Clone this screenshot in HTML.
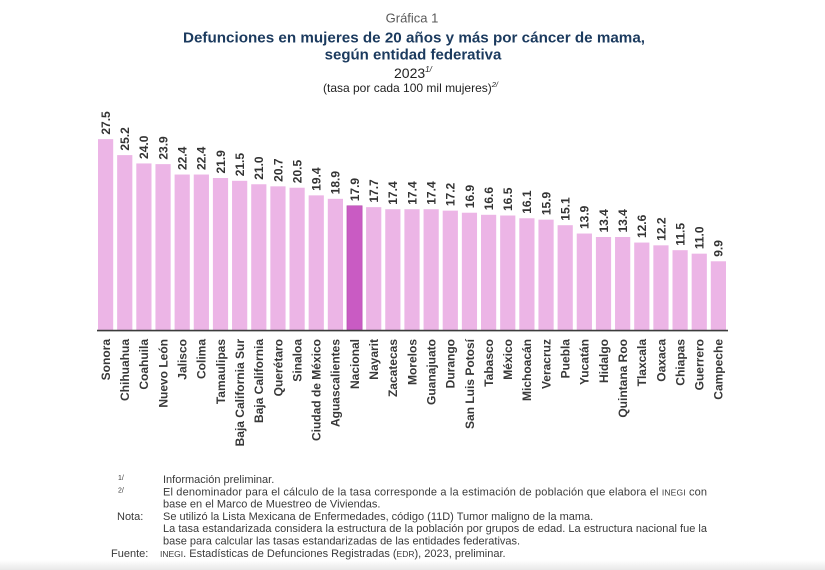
<!DOCTYPE html>
<html><head><meta charset="utf-8"><style>
html,body{margin:0;padding:0;background:#fff;}
svg{display:block;font-family:"Liberation Sans",Arial,sans-serif;}
.v{font-size:12px;font-weight:bold;fill:#333;}
.c{font-size:12px;font-weight:bold;fill:#383838;text-anchor:end;}
.f{font-size:11px;fill:#3a3a3a;}
.sc{font-size:8.5px;}
</style></head><body>
<svg width="825" height="570" viewBox="0 0 825 570" xmlns="http://www.w3.org/2000/svg">
<defs><linearGradient id="bg" x1="0" y1="0" x2="0" y2="1"><stop offset="0" stop-color="#fff"/><stop offset="1" stop-color="#e8e8e8"/></linearGradient></defs>
<rect width="825" height="570" fill="#fff"/>
<rect x="0" y="560" width="825" height="10" fill="url(#bg)"/>

<text x="412" y="22.5" text-anchor="middle" font-size="13" fill="#595959">Gráfica 1</text>
<text x="414" y="42.5" text-anchor="middle" font-size="15" font-weight="bold" fill="#1b3a5e" textLength="462" lengthAdjust="spacingAndGlyphs">Defunciones en mujeres de 20 años y más por cáncer de mama,</text>
<text x="413" y="59.5" text-anchor="middle" font-size="15" font-weight="bold" fill="#1b3a5e">según entidad federativa</text>
<text x="394" y="78" font-size="14" fill="#222">2023<tspan font-size="8" dy="-6" font-style="italic">1/</tspan></text>
<text x="323" y="92" font-size="12" fill="#222">(tasa por cada 100 mil mujeres)<tspan font-size="7.5" dy="-5" font-style="italic">2/</tspan></text>

<g fill="#ecb5e6">
<rect x="98.00" y="139.15" width="15.2" height="190.85"/>
<rect x="117.15" y="155.11" width="15.2" height="174.89"/>
<rect x="136.30" y="163.44" width="15.2" height="166.56"/>
<rect x="155.45" y="164.13" width="15.2" height="165.87"/>
<rect x="174.60" y="174.54" width="15.2" height="155.46"/>
<rect x="193.75" y="174.54" width="15.2" height="155.46"/>
<rect x="212.90" y="178.01" width="15.2" height="151.99"/>
<rect x="232.05" y="180.79" width="15.2" height="149.21"/>
<rect x="251.20" y="184.26" width="15.2" height="145.74"/>
<rect x="270.35" y="186.34" width="15.2" height="143.66"/>
<rect x="289.50" y="187.73" width="15.2" height="142.27"/>
<rect x="308.65" y="195.36" width="15.2" height="134.64"/>
<rect x="327.80" y="198.83" width="15.2" height="131.17"/>
<rect x="366.10" y="207.16" width="15.2" height="122.84"/>
<rect x="385.25" y="209.24" width="15.2" height="120.76"/>
<rect x="404.40" y="209.24" width="15.2" height="120.76"/>
<rect x="423.55" y="209.24" width="15.2" height="120.76"/>
<rect x="442.70" y="210.63" width="15.2" height="119.37"/>
<rect x="461.85" y="212.71" width="15.2" height="117.29"/>
<rect x="481.00" y="214.80" width="15.2" height="115.20"/>
<rect x="500.15" y="215.49" width="15.2" height="114.51"/>
<rect x="519.30" y="218.27" width="15.2" height="111.73"/>
<rect x="538.45" y="219.65" width="15.2" height="110.35"/>
<rect x="557.60" y="225.21" width="15.2" height="104.79"/>
<rect x="576.75" y="233.53" width="15.2" height="96.47"/>
<rect x="595.90" y="237.00" width="15.2" height="93.00"/>
<rect x="615.05" y="237.00" width="15.2" height="93.00"/>
<rect x="634.20" y="242.56" width="15.2" height="87.44"/>
<rect x="653.35" y="245.33" width="15.2" height="84.67"/>
<rect x="672.50" y="250.19" width="15.2" height="79.81"/>
<rect x="691.65" y="253.66" width="15.2" height="76.34"/>
<rect x="710.80" y="261.29" width="15.2" height="68.71"/>
</g>
<rect x="346.95" y="205.77" width="15.2" height="124.23" fill="#c95bc3" stroke="#b24aac" stroke-width="0.6"/>
<line x1="97" y1="330.6" x2="728" y2="330.6" stroke="#3c3c3c" stroke-width="1.6"/>

<g class="v">
<text transform="translate(109.9,134.65) rotate(-90)">27.5</text>
<text transform="translate(129.05,150.61) rotate(-90)">25.2</text>
<text transform="translate(148.2,158.94) rotate(-90)">24.0</text>
<text transform="translate(167.35,159.63) rotate(-90)">23.9</text>
<text transform="translate(186.5,170.04) rotate(-90)">22.4</text>
<text transform="translate(205.65,170.04) rotate(-90)">22.4</text>
<text transform="translate(224.8,173.51) rotate(-90)">21.9</text>
<text transform="translate(243.95,176.29) rotate(-90)">21.5</text>
<text transform="translate(263.1,179.76) rotate(-90)">21.0</text>
<text transform="translate(282.25,181.84) rotate(-90)">20.7</text>
<text transform="translate(301.4,183.23) rotate(-90)">20.5</text>
<text transform="translate(320.55,190.86) rotate(-90)">19.4</text>
<text transform="translate(339.7,194.33) rotate(-90)">18.9</text>
<text transform="translate(358.85,201.27) rotate(-90)">17.9</text>
<text transform="translate(378.0,202.66) rotate(-90)">17.7</text>
<text transform="translate(397.15,204.74) rotate(-90)">17.4</text>
<text transform="translate(416.3,204.74) rotate(-90)">17.4</text>
<text transform="translate(435.45,204.74) rotate(-90)">17.4</text>
<text transform="translate(454.6,206.13) rotate(-90)">17.2</text>
<text transform="translate(473.75,208.21) rotate(-90)">16.9</text>
<text transform="translate(492.9,210.3) rotate(-90)">16.6</text>
<text transform="translate(512.05,210.99) rotate(-90)">16.5</text>
<text transform="translate(531.2,213.77) rotate(-90)">16.1</text>
<text transform="translate(550.35,215.15) rotate(-90)">15.9</text>
<text transform="translate(569.5,220.71) rotate(-90)">15.1</text>
<text transform="translate(588.65,229.03) rotate(-90)">13.9</text>
<text transform="translate(607.8,232.5) rotate(-90)">13.4</text>
<text transform="translate(626.95,232.5) rotate(-90)">13.4</text>
<text transform="translate(646.1,238.06) rotate(-90)">12.6</text>
<text transform="translate(665.25,240.83) rotate(-90)">12.2</text>
<text transform="translate(684.4,245.69) rotate(-90)">11.5</text>
<text transform="translate(703.55,249.16) rotate(-90)">11.0</text>
<text transform="translate(722.7,256.79) rotate(-90)">9.9</text>
</g>

<g class="c">
<text transform="translate(109.9,339) rotate(-90)">Sonora</text>
<text transform="translate(129.05,339) rotate(-90)">Chihuahua</text>
<text transform="translate(148.2,339) rotate(-90)">Coahuila</text>
<text transform="translate(167.35,339) rotate(-90)">Nuevo León</text>
<text transform="translate(186.5,339) rotate(-90)">Jalisco</text>
<text transform="translate(205.65,339) rotate(-90)">Colima</text>
<text transform="translate(224.8,339) rotate(-90)">Tamaulipas</text>
<text transform="translate(243.95,339) rotate(-90)">Baja California Sur</text>
<text transform="translate(263.1,339) rotate(-90)">Baja California</text>
<text transform="translate(282.25,339) rotate(-90)">Querétaro</text>
<text transform="translate(301.4,339) rotate(-90)">Sinaloa</text>
<text transform="translate(320.55,339) rotate(-90)">Ciudad de México</text>
<text transform="translate(339.7,339) rotate(-90)">Aguascalientes</text>
<text transform="translate(358.85,339) rotate(-90)">Nacional</text>
<text transform="translate(378.0,339) rotate(-90)">Nayarit</text>
<text transform="translate(397.15,339) rotate(-90)">Zacatecas</text>
<text transform="translate(416.3,339) rotate(-90)">Morelos</text>
<text transform="translate(435.45,339) rotate(-90)">Guanajuato</text>
<text transform="translate(454.6,339) rotate(-90)">Durango</text>
<text transform="translate(473.75,339) rotate(-90)">San Luis Potosí</text>
<text transform="translate(492.9,339) rotate(-90)">Tabasco</text>
<text transform="translate(512.05,339) rotate(-90)">México</text>
<text transform="translate(531.2,339) rotate(-90)">Michoacán</text>
<text transform="translate(550.35,339) rotate(-90)">Veracruz</text>
<text transform="translate(569.5,339) rotate(-90)">Puebla</text>
<text transform="translate(588.65,339) rotate(-90)">Yucatán</text>
<text transform="translate(607.8,339) rotate(-90)">Hidalgo</text>
<text transform="translate(626.95,339) rotate(-90)">Quintana Roo</text>
<text transform="translate(646.1,339) rotate(-90)">Tlaxcala</text>
<text transform="translate(665.25,339) rotate(-90)">Oaxaca</text>
<text transform="translate(684.4,339) rotate(-90)">Chiapas</text>
<text transform="translate(703.55,339) rotate(-90)">Guerrero</text>
<text transform="translate(722.7,339) rotate(-90)">Campeche</text>
</g>

<g class="f">
<text x="118" y="480" font-size="7">1/</text>
<text x="163" y="483">Información preliminar.</text>
<text x="118" y="492.3" font-size="7">2/</text>
<text x="163" y="495.3" textLength="544" lengthAdjust="spacing">El denominador para el cálculo de la tasa corresponde a la estimación de población que elabora el <tspan class="sc">INEGI</tspan> con</text>
<text x="163" y="507.6">base en el Marco de Muestreo de Viviendas.</text>
<text x="117" y="519.9">Nota:</text>
<text x="163" y="519.9">Se utilizó la Lista Mexicana de Enfermedades, código (11D) Tumor maligno de la mama.</text>
<text x="163" y="532.2" textLength="544" lengthAdjust="spacing">La tasa estandarizada considera la estructura de la población por grupos de edad. La estructura nacional fue la</text>
<text x="163" y="544.5">base para calcular las tasas estandarizadas de las entidades federativas.</text>
<text x="111" y="556.8">Fuente:</text>
<text x="160" y="556.8"><tspan class="sc">INEGI</tspan>. Estadísticas de Defunciones Registradas (<tspan class="sc">EDR</tspan>), 2023, preliminar.</text>
</g>
</svg>
</body></html>
